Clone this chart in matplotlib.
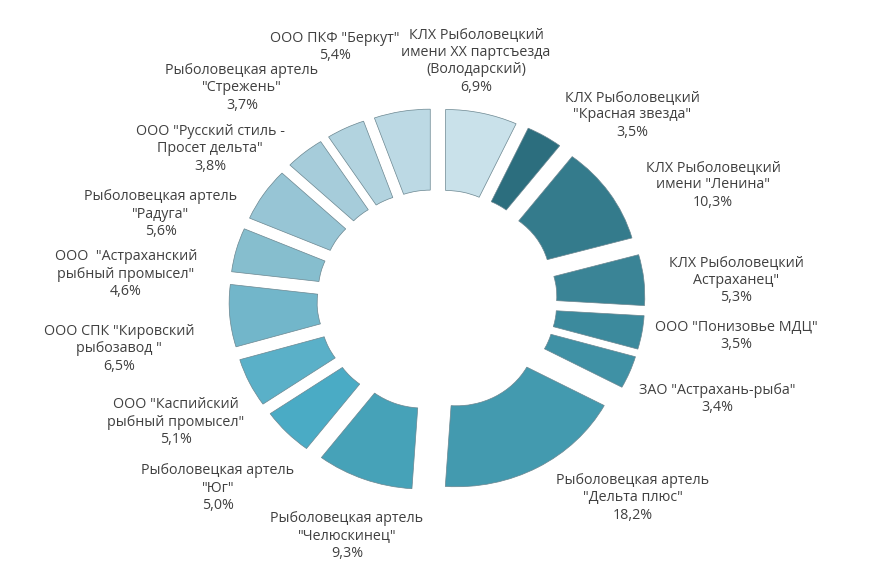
import matplotlib.pyplot as plt

plt.rcParams['font.family'] = ['Open Sans', 'DejaVu Sans']

names = ['КЛХ Рыболовецкий\nимени XX партсъезда\n(Володарский)',
         'КЛХ Рыболовецкий\n"Красная звезда"',
         'КЛХ Рыболовецкий\nимени "Ленина"',
         'КЛХ Рыболовецкий\nАстраханец"',
         'ООО "Понизовье МДЦ"',
         'ЗАО "Астрахань-рыба"',
         'Рыболовецкая артель\n"Дельта плюс"',
         'Рыболовецкая артель\n"Челюскинец"',
         'Рыболовецкая артель\n"Юг"',
         'ООО "Каспийский\nрыбный промысел"',
         'ООО СПК "Кировский\nрыбозавод "',
         'ООО  "Астраханский\nрыбный промысел"',
         'Рыболовецкая артель\n"Радуга"',
         'ООО "Русский стиль -\nПросет дельта"',
         'Рыболовецкая артель\n"Стрежень"',
         'ООО ПКФ "Беркут"']
shares = [6.9, 3.5, 10.3, 5.3, 3.5, 3.4, 18.2, 9.3, 5.0, 5.1, 6.5, 4.6, 5.6, 3.8, 3.7, 5.4]

colors = ['#c9e1ea', '#2c6e7e', '#347b8c', '#3a8496', '#3c8a9d', '#3f91a5',
          '#439aaf', '#46a2b8', '#4aabc5', '#5ab0c8', '#72b6ca', '#86bece',
          '#97c5d5', '#a6ccda', '#b2d3df', '#bcd9e4']

# label block centres in pixels (layout only)
label_pos = [(476, 61), (632, 115), (713, 185), (736, 280), (736, 336),
             (717, 399), (633, 498), (347, 536), (218, 488), (176, 422),
             (119, 349), (126, 274), (161, 214), (210, 149), (242, 88),
             (335, 47)]

W, H = 884, 588
sy = 0.92
cx, cy = 437, 300

fig = plt.figure(figsize=(W / 100, H / 100), dpi=100)
ax = fig.add_axes([0, 0, 1, 1])
ax.pie(shares, colors=colors, startangle=90, counterclock=False,
       center=(cx, (H - cy) / sy), radius=168, explode=[40] * len(shares),
       wedgeprops=dict(width=88, edgecolor='#6a8690', linewidth=0.5))
ax.set_aspect('auto')
ax.set_xlim(0, W)
ax.set_ylim(0, H / sy)
ax.axis('off')

for n, v, (x, y) in zip(names, shares, label_pos):
    txt = n + '\n' + ('%.1f%%' % v).replace('.', ',')
    fig.text(x / W, 1 - y / H, txt, ha='center', va='center', fontsize=10.3,
             color='#404040', linespacing=1.25)

fig.savefig('out.png', dpi=100)
